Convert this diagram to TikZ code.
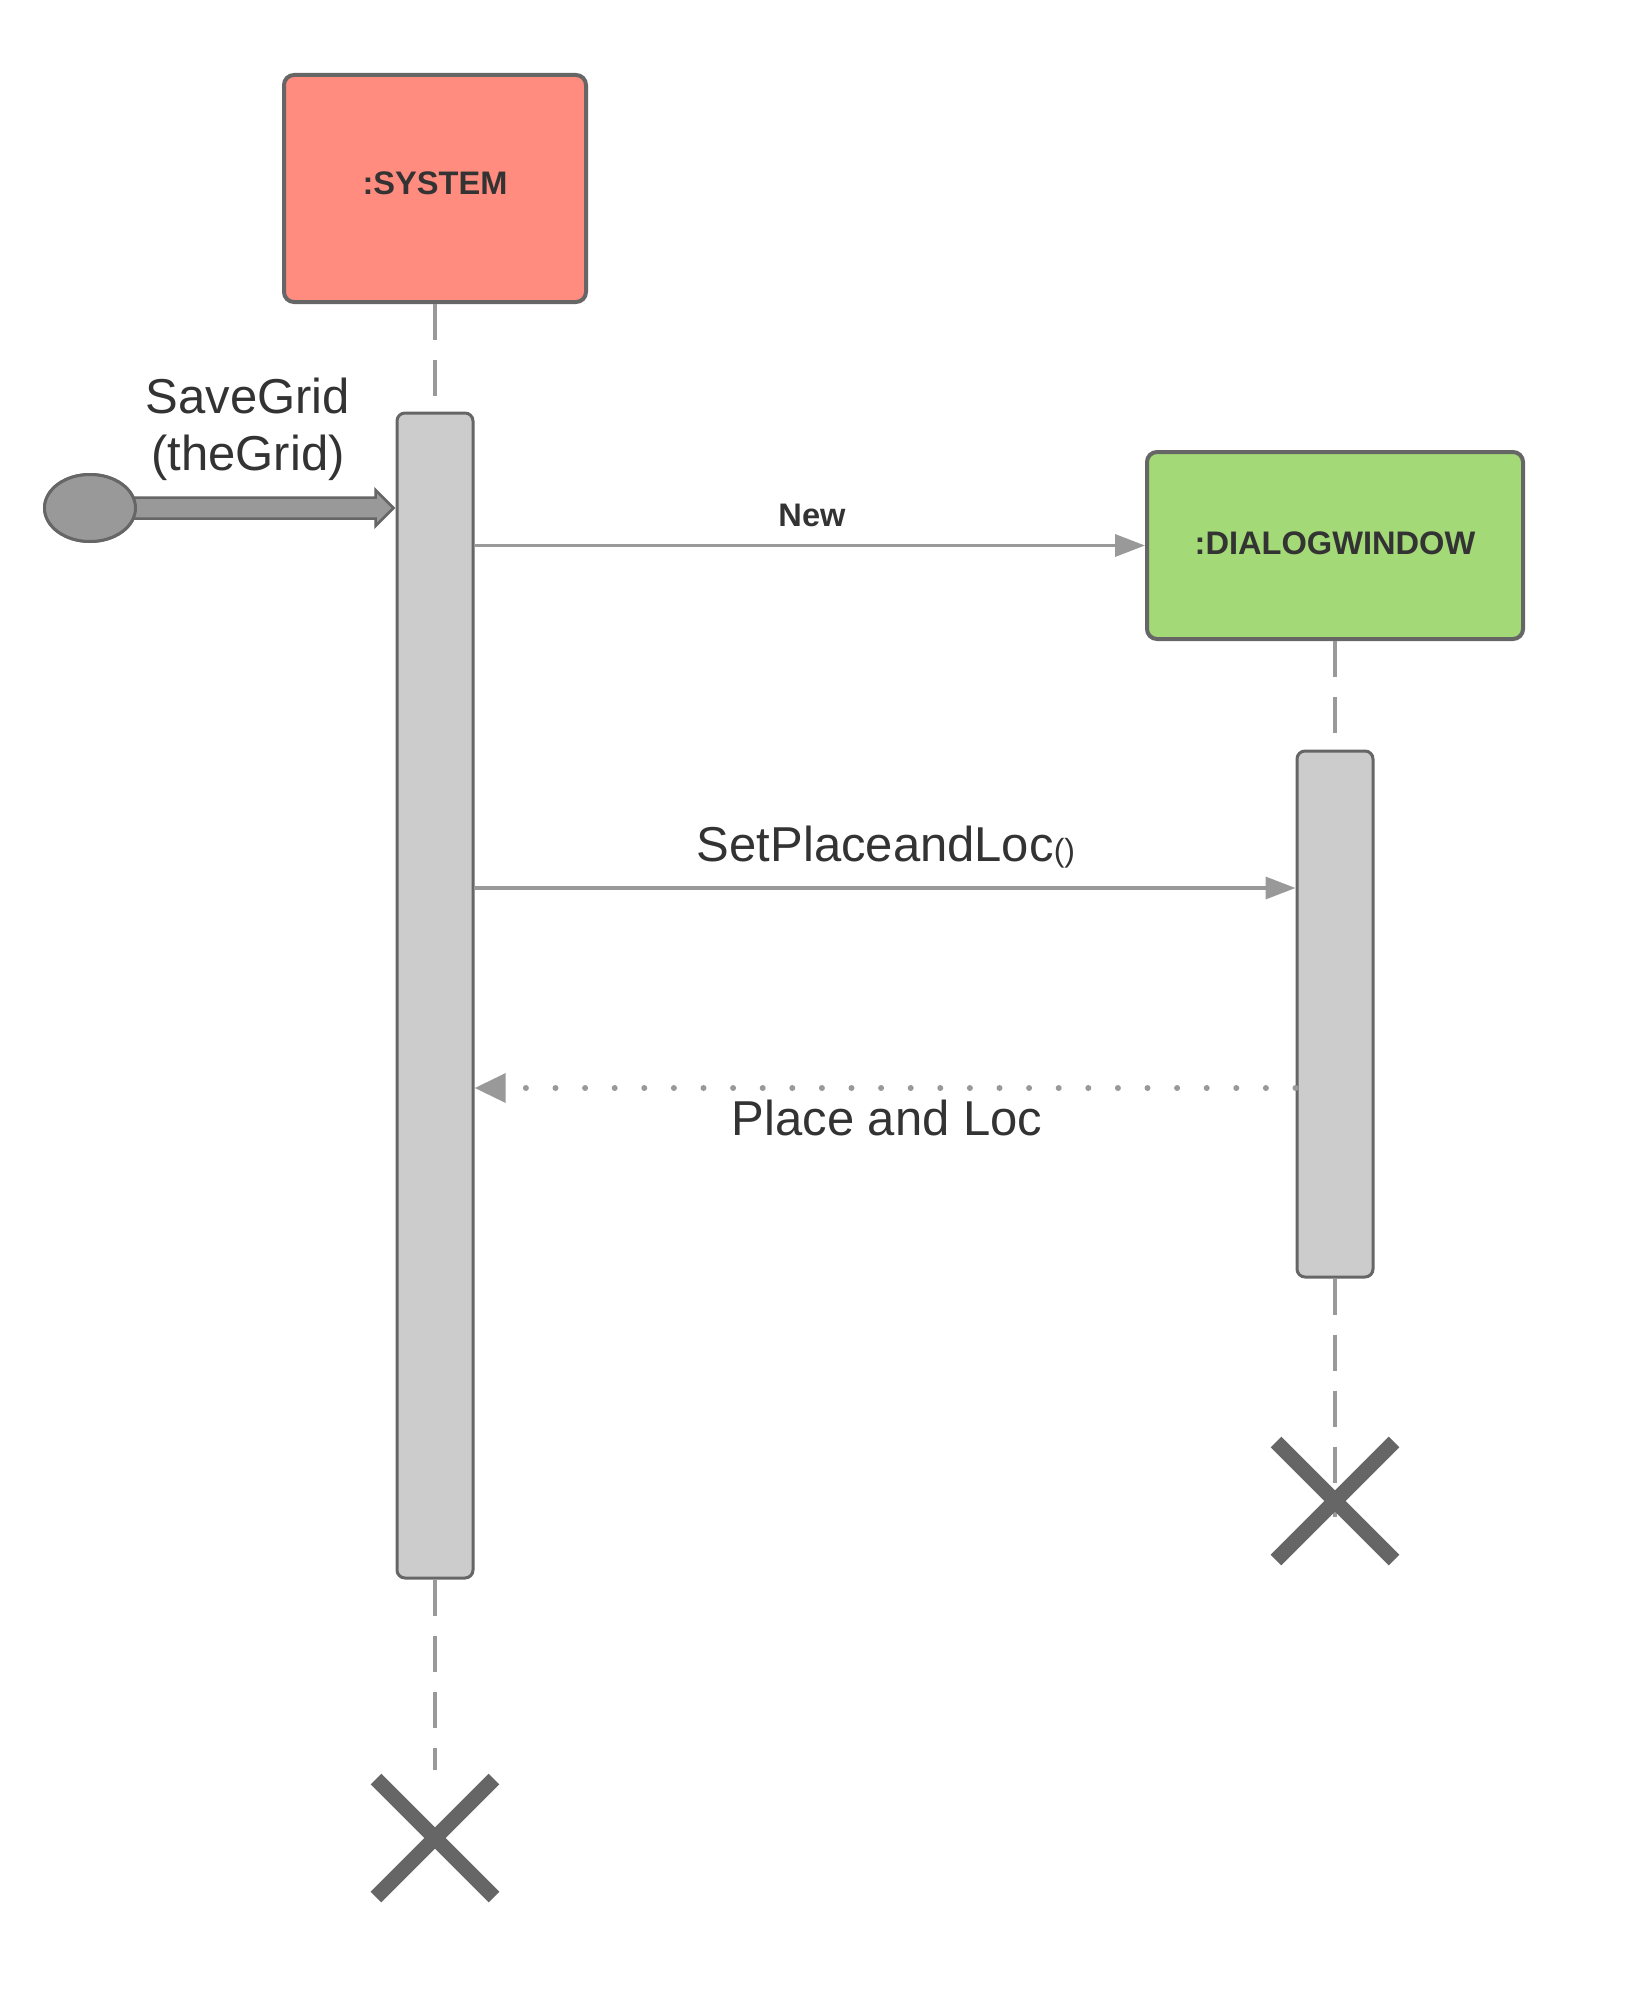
\documentclass[tikz,border=0pt]{standalone}
\usepackage{fontspec}
\setmainfont{Liberation Sans}
\usetikzlibrary{calc,arrows.meta,shapes.geometric,shapes.misc}
\definecolor{sysfill}{HTML}{FF8C7F}
\definecolor{dlgfill}{HTML}{A3D977}
\definecolor{edge}{HTML}{666666}
\definecolor{wire}{HTML}{999999}
\definecolor{barfill}{HTML}{CCCCCC}
\definecolor{ink}{HTML}{333333}
\begin{document}
\begin{tikzpicture}[x=0.5pt,y=-0.5pt,
  objbox/.style={draw=edge, line width=2pt, rounded corners=5pt, inner sep=0pt,
    font=\bfseries\fontsize{16.3}{19}\selectfont, text=ink},
  actbar/.style={draw=edge, line width=1.5pt, fill=barfill, rounded corners=4pt,
    inner sep=0pt, minimum width=38pt},
  lifeline/.style={draw=wire, line width=2pt, dash pattern=on 18pt off 10pt},
  msg/.style={draw=wire, line width=1.75pt, -{Triangle[length=15pt,width=11pt]}},
  retmsg/.style={draw=wire, line width=3pt, line cap=round, dash pattern=on 0pt off 14.8pt,
    -{Triangle[length=15.5pt,width=14pt,line cap=butt]}},
  lbl/.style={text=ink, inner sep=0pt, font=\fontsize{24.5}{29}\selectfont},
  blbl/.style={text=ink, inner sep=0pt, font=\bfseries\fontsize{16.3}{19}\selectfont},
  destroy/.style={cross out, draw=edge, line width=7.5pt, minimum size=59pt, inner sep=0pt, outer sep=0pt}
]
\useasboundingbox[fill=white] (0,0) rectangle (1648,2012);

% objects
\node[objbox, fill=sysfill, minimum width=151pt, minimum height=113.5pt] (sysbox) at (435,188.5) {};
\node[blbl] (systxt) at (435,183) {:SYSTEM};
\node[objbox, fill=dlgfill, minimum width=188pt, minimum height=93.5pt] (dlgbox) at (1335,545.5) {};
\node[blbl] (dlgtxt) at (1335,543) {:DIALOGWINDOW};

% activation bars
\node[actbar, minimum height=582.5pt] (sysbar) at (435,995.5) {};
\node[actbar, minimum height=263pt] (dlgbar) at (1335,1014) {};

% lifelines
\coordinate (sysend) at (435,1770);
\coordinate (dlgend) at (1335,1517);
\draw[lifeline] (sysbox.south) -- (sysbar.north);
\draw[lifeline] (sysbar.south) -- (sysend);
\draw[lifeline] (dlgbox.south) -- (dlgbar.north);
\draw[lifeline] (dlgbar.south) -- (dlgend);

% found message
\node[ellipse, draw=edge, fill=wire, line width=1.5pt, minimum width=45.5pt, minimum height=33.5pt, inner sep=0pt] (start) at (90,508) {};
\coordinate (tip) at ($(sysbar.west |- start.center)+(-2,0)$);
\filldraw[fill=wire, draw=edge, line width=1.25pt]
  ($(start.east)+(-8,-10.5)$) -- ($(tip)+(-18,-10.5)$) -- ($(tip)+(-18,-18)$) -- (tip)
  -- ($(tip)+(-18,18)$) -- ($(tip)+(-18,10.5)$) -- ($(start.east)+(-8,10.5)$) -- cycle;
\node[ellipse, draw=edge, fill=wire, line width=1.5pt, minimum width=45.5pt, minimum height=33.5pt, inner sep=0pt] at (start.center) {};
\node[lbl, anchor=base] (savegrid) at (248,413) {SaveGrid};
\node[lbl, anchor=base] (thegrid) at (248,470) {(theGrid)};

% New
\draw[msg] (sysbar.east |- dlgbox.west) -- (dlgbox.west);
\node[blbl, anchor=base] (newlbl) at (812,526) {New};

% SetPlaceandLoc
\coordinate (m2) at (0,888);
\draw[msg] (sysbar.east |- m2) -- (dlgbar.west |- m2);
\node[lbl, anchor=base] (setlbl) at (886,861) {SetPlaceandLoc{\fontsize{16}{18}\selectfont()}};

% return
\coordinate (m3) at (0,1088);
\draw[retmsg] (dlgbar.west |- m3) -- (sysbar.east |- m3);
\node[lbl, anchor=base] (retlbl) at (887,1135) {Place and Loc};

% destruction marks
\node[destroy] (sysx) at (435,1838) {};
\node[destroy] (dlgx) at (1335,1501) {};
\end{tikzpicture}
\end{document}
